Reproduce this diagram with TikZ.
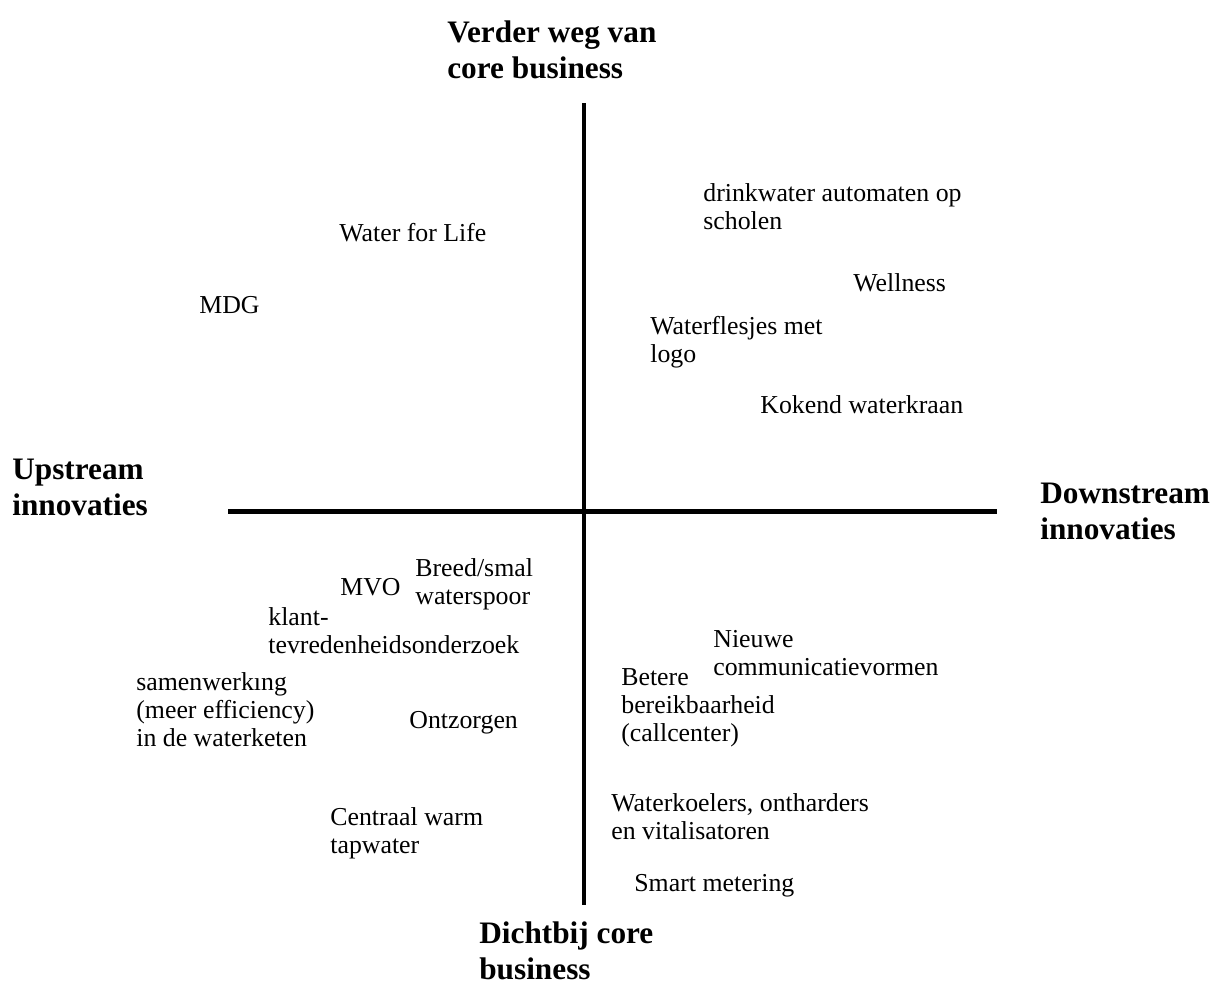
\documentclass[tikz,border=0pt]{standalone}
\usepackage{fontspec}
\setmainfont{Liberation Serif}
\begin{document}
\begin{tikzpicture}[x=0.02cm,y=-0.02cm,
  lbl/.style={anchor=west,align=left,inner sep=0pt,font=\fontsize{14.7}{15.9}\selectfont},
  ttl/.style={anchor=west,align=left,inner sep=0pt,font=\fontsize{17.8}{20.4}\selectfont\bfseries},
  axis/.style={line width=2.8pt}]
\useasboundingbox (0,0) rectangle (1210,988);
\coordinate (vt) at (584,103);
\coordinate (vb) at (584,905);
\coordinate (hl) at (228,511.5);
\coordinate (hr) at (997,511.5);
\draw[axis] (vt) -- (vb);
\draw[axis] (hl) -- (hr);
\node[ttl] (top) at (447,50) {Verder weg van\\core business};
\node[ttl] (left) at (12,487.5) {Upstream\\innovaties};
\node[ttl] (right) at (1040,511.5) {Downstream\\innovaties};
\node[ttl] (bottom) at (479,951) {Dichtbij core\\business};
\node[lbl] (n1) at (703,207) {drinkwater automaten op\\scholen};
\node[lbl] (n2) at (339,233) {Water for Life};
\node[lbl] (n3) at (199,305) {MDG};
\node[lbl] (n4) at (853,283) {Wellness};
\node[lbl] (n5) at (650,342) {Waterflesjes met\\logo};
\node[lbl] (n6) at (760,405) {Kokend waterkraan};
\node[lbl] (n7) at (340,587) {MVO};
\node[lbl] (n8) at (415,584.5) {Breed/smal\\waterspoor};
\node[lbl] (n9) at (268,630.5) {klant-\\tevredenheidsonderzoek};
\node[lbl] (n10) at (136,710) {samenwerkıng\\(meer efficiency)\\in de waterketen};
\node[lbl] (n11) at (409,723) {Ontzorgen};
\node[lbl] (n12) at (713,653) {Nieuwe\\communicatievormen};
\node[lbl] (n13) at (621,707.5) {Betere\\bereikbaarheid\\(callcenter)};
\node[lbl] (n14) at (611,816.5) {Waterkoelers, ontharders\\en vitalisatoren};
\node[lbl] (n15) at (330,833.5) {Centraal warm\\tapwater};
\node[lbl] (n16) at (634,886) {Smart metering};
\end{tikzpicture}
\end{document}
